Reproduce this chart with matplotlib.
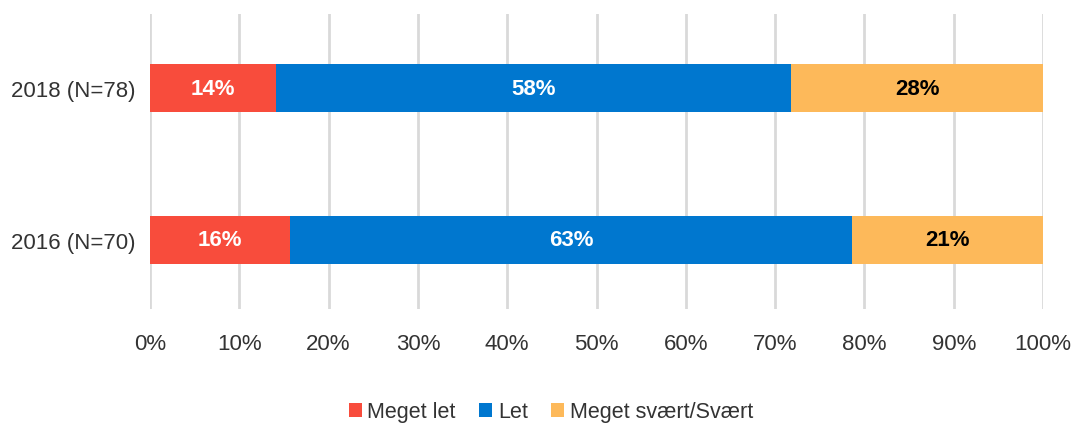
import matplotlib.pyplot as plt
import matplotlib.ticker as mtick

plt.rcParams['font.family'] = ['Liberation Sans', 'DejaVu Sans']

# data: share of respondents (%), bars drawn bottom-up
years = ["2016 (N=70)", "2018 (N=78)"]
categories = ["Meget let", "Let", "Meget svært/Svært"]
meget_let = [15.7, 14.1]
let = [62.9, 57.7]
svaert = [21.4, 28.2]
colors = ["#F84C3C", "#0077CF", "#FDB95A"]
label_colors = ["white", "white", "black"]

series = [meget_let, let, svaert]

fig = plt.figure(figsize=(10.72, 4.31), dpi=100)
ax = fig.add_axes([150 / 1072, 1 - 310 / 431, 893 / 1072, 295 / 431])

y = list(range(len(years)))
left = [0.0] * len(years)
for vals, name, col, lc in zip(series, categories, colors, label_colors):
    ax.barh(y, vals, left=left, height=0.31, color=col, label=name, zorder=3)
    for yi, v, l in zip(y, vals, left):
        ax.text(l + v / 2, yi, f"{v:.0f}%", ha="center", va="center",
                color=lc, fontsize=16, fontweight="bold", zorder=4)
    left = [a + b for a, b in zip(left, vals)]

ax.set_xlim(0, 100)
ax.set_ylim(-0.454, 1.487)
ax.set_yticks(y)
ax.set_yticklabels(years)
ax.set_xticks(range(0, 101, 10))
ax.xaxis.set_major_formatter(mtick.PercentFormatter(decimals=0))
ax.tick_params(axis="both", length=0, labelsize=16, colors="#333333")
ax.tick_params(axis="x", pad=17)
ax.tick_params(axis="y", pad=10.5)
ax.grid(axis="x", color="#D9D9D9", linewidth=2, zorder=0)
for s in ax.spines.values():
    s.set_visible(False)

ax.legend(loc="center", bbox_to_anchor=(551 / 1072, 1 - 413 / 431),
          bbox_transform=fig.transFigure, ncol=3, frameon=False,
          fontsize=15.5, handlelength=0.6, handleheight=0.6,
          handletextpad=0.25, columnspacing=1.1, labelcolor="#333333")

fig.savefig("out.png", dpi=100)
